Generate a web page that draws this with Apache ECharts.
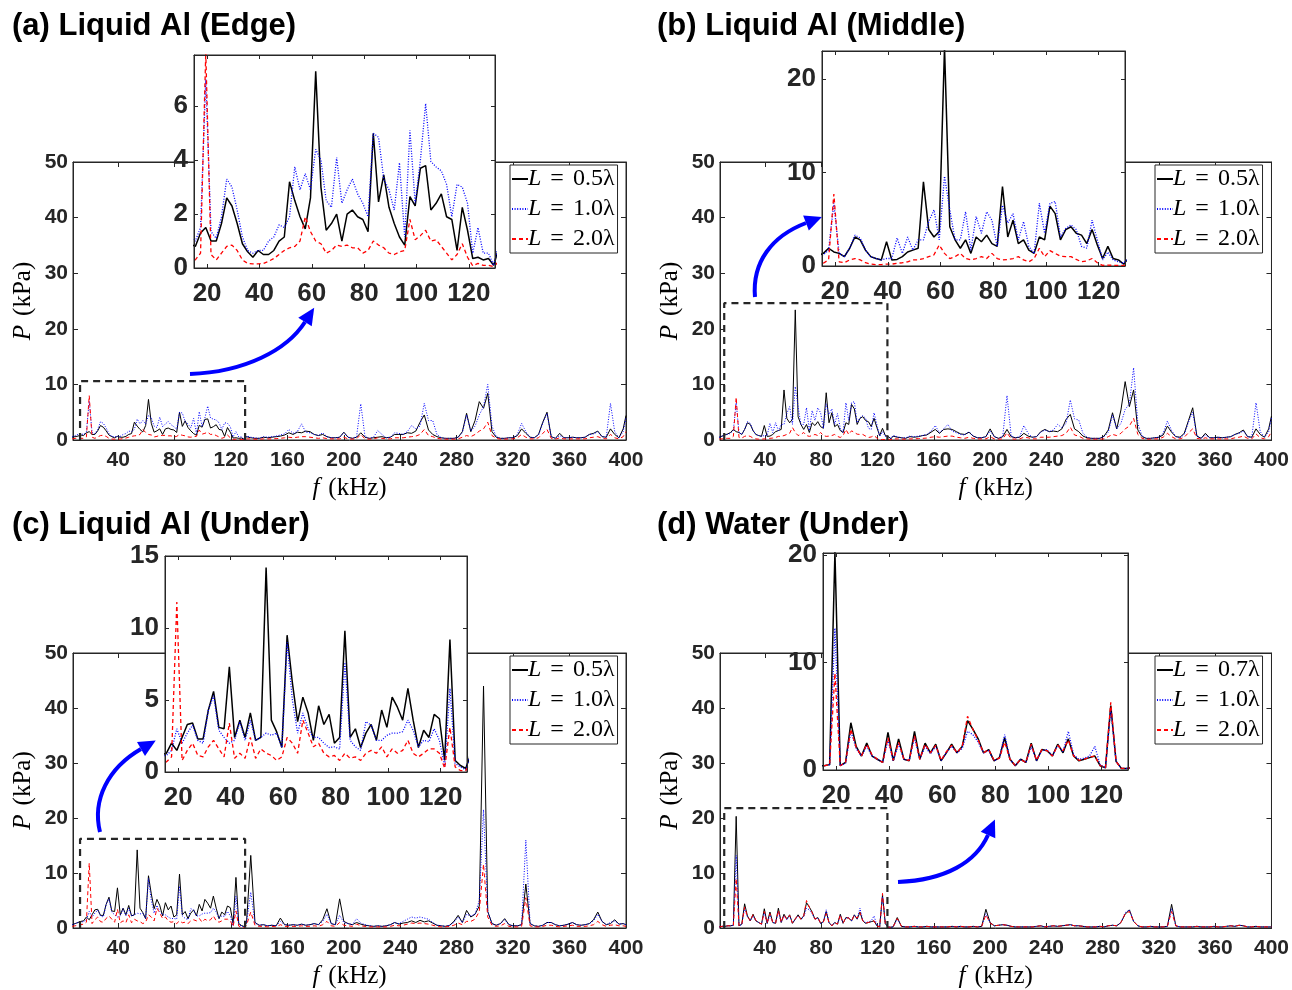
<!DOCTYPE html>
<html><head><meta charset="utf-8">
<script src="https://cdn.jsdelivr.net/npm/echarts@6/dist/echarts.min.js"></script>
<style>html,body{margin:0;padding:0;background:#fff}#c{width:1292px;height:990px}</style>
</head><body><div id="c"></div>
<script>
// ---------- frequency grid (kHz) ----------
const freq = [7.5,9.5,11.5,13.5,
15.5,17.5,19.5,21.5,23.5,25.5,27.5,29.5,31.5,33.5,35.5,37.5,39.5,41.5,43.5,45.5,47.5,49.5,51.5,53.5,55.5,57.5,59.5,61.5,63.5,65.5,67.5,69.5,71.5,73.5,75.5,77.5,79.5,81.5,83.5,85.5,87.5,89.5,91.5,93.5,95.5,97.5,99.5,101.5,103.5,105.5,107.5,109.5,111.5,113.5,115.5,117.5,119.5,121.5,123.5,125.5,127.5,129.5,
131,134,137,140,143,146,149,152,155,158,161,164,167,170,173,176,179,182,185,188,191,194,197,200,203,206,209,212,215,218,221,224,227,230,233,236,239,242,245,248,251,254,257,260,263,266,269,272,275,278,281,284,287,290,293,296,299,302,305,308,311,314,317,320,323,326,329,332,335,338,341,344,347,350,353,356,359,362,365,368,371,374,377,380,383,386,389,392,395,398,400];

// ---------- (a) Liquid Al (Edge) ----------
const aL05 = [0.5,0.6,0.7,0.9,
0.8,1.3,1.5,1.0,1.0,1.65,2.6,2.3,1.65,0.9, 0.6,0.4,0.65,0.5,0.5,0.65,1.0,1.15,3.2,2.5, 1.9,1.45,2.6,7.3,3.0,1.4,1.65,2.0,1.0,2.0, 2.15,1.9,1.8,1.35,5.0,2.45,3.45,2.25,1.65,1.15, 0.85,2.65,2.3,3.7,3.8,2.15,2.4,2.75,1.9,1.8, 0.65,2.25,1.4,0.35,0.4,0.3,0.35,0.1,
0.6,0.4,0.3,0.3,0.5,0.4,0.5,0.6,0.7,0.9, 1.3,1.0,1.4,1.3,1.6,1.5,1.0,0.8,1.0,0.6, 0.4,0.4,0.5,1.4,0.5,0.3,0.5,1.3,0.5,0.3, 0.4,0.5,0.6,0.4,0.5,1.0,1.0,1.0,1.3,1.2, 1.6,3.2,4.5,1.8,1.0,0.6,0.4,0.3,0.3,0.3, 0.5,1.5,4.8,1.5,3.5,6.9,5.7,8.4,1.5,0.5, 0.3,0.3,0.4,0.4,0.8,2.0,1.2,0.5,0.4,1.0, 3.2,5.0,0.6,0.3,1.2,0.4,0.4,0.5,0.4,0.4, 0.5,1.0,1.2,1.6,0.6,0.5,2.0,1.0,0.4,2.0, 4.4];
const aL10 = [0.6,0.8,1.0,1.1,
1.0,1.5,7.0,1.35,1.1,1.9,3.3,3.0,2.15,1.15, 0.65,0.55,0.65,0.65,1.0,1.15,1.6,1.5,1.9,3.75, 2.9,3.5,2.9,4.4,4.0,2.5,2.25,4.1,2.4,2.9, 3.3,2.75,2.4,1.9,5.0,4.85,3.3,2.9,2.15,3.9, 1.15,5.1,2.4,4.0,6.1,3.95,3.75,3.6,3.1,1.9, 3.1,3.0,2.4,0.55,1.5,0.55,0.55,0.1,
0.7,0.5,0.4,0.3,0.6,0.5,0.6,0.7,0.9,1.1, 1.9,1.2,1.5,2.9,1.4,1.3,1.0,0.8,1.3,0.6, 0.4,0.4,0.5,1.3,0.5,0.3,0.6,6.5,0.6,0.3, 0.5,1.7,1.0,0.4,0.5,1.3,1.2,1.0,1.5,2.6, 2.0,2.5,6.6,3.5,3.5,1.0,0.4,0.3,0.3,0.3, 0.5,1.3,4.5,1.6,2.5,4.5,6.0,10.0,2.5,0.6, 0.3,0.3,0.4,0.4,1.0,3.0,1.5,0.5,0.4,0.9, 3.0,4.8,0.6,0.3,0.8,0.4,0.4,0.5,0.4,0.4, 0.5,1.0,1.1,1.5,0.6,0.5,6.6,1.5,0.4,1.5, 4.0];
const aL20 = [0.2,0.3,0.3,0.3,
0.3,0.55,8.0,0.5,0.3,0.55,0.8,0.85,0.65,0.3, 0.17,0.15,0.15,0.17,0.25,0.35,0.5,0.65,0.75,0.8, 1.0,1.9,1.35,1.0,0.9,0.55,0.65,0.85,0.8,0.85, 0.75,0.75,0.55,0.65,1.0,0.85,0.75,0.55,0.5,0.6, 0.65,1.8,1.05,1.2,1.4,1.0,1.05,0.8,0.55,0.3, 0.5,0.9,0.4,0.08,0.17,0.1,0.1,0.05,
0.2,0.2,0.15,0.15,0.2,0.2,0.2,0.25,0.3,0.4, 0.5,0.4,0.5,0.6,0.6,0.5,0.4,0.3,0.4,0.25, 0.2,0.2,0.2,0.5,0.2,0.15,0.2,1.0,0.2,0.15, 0.2,0.4,0.3,0.2,0.2,0.4,0.4,0.4,0.5,0.6, 0.7,1.0,1.9,0.8,0.6,0.3,0.2,0.15,0.15,0.15, 0.2,0.5,0.8,0.6,1.0,1.6,2.0,3.2,0.8,0.3, 0.15,0.15,0.2,0.2,0.4,1.0,0.5,0.2,0.2,0.4, 1.2,1.9,0.3,0.15,0.4,0.2,0.2,0.2,0.2,0.2, 0.2,0.4,0.5,0.6,0.3,0.2,1.0,0.4,0.2,0.6, 1.5];

// ---------- (b) Liquid Al (Middle) ----------
const bL05 = [0.5,0.7,0.9,1.1,
1.35,1.9,1.5,1.35,1.0,1.9,3.1,2.8,1.7,1.0, 0.8,0.65,2.6,0.65,0.7,1.0,1.5,1.7,1.9,9.0, 3.9,3.1,3.7,23.4,4.2,2.8,1.9,2.8,1.35,3.1, 2.6,3.3,2.4,2.1,8.5,3.1,4.9,2.4,2.8,1.7, 1.35,3.1,2.8,6.4,5.6,2.8,3.9,4.2,3.5,3.3, 2.4,3.9,2.25,0.8,2.1,0.8,0.65,0.2,
0.7,0.5,0.4,0.3,0.6,0.5,0.6,0.8,0.9,1.4, 1.9,1.2,1.9,2.0,1.9,1.5,1.1,1.0,1.4,0.7, 0.4,0.4,0.6,2.0,0.6,0.3,0.6,1.9,0.6,0.4, 0.5,1.2,0.7,0.5,0.6,1.5,1.9,1.5,1.6,1.5, 2.0,3.7,4.6,2.0,1.5,0.7,0.4,0.3,0.3,0.3, 0.7,1.8,4.9,2.0,5.4,10.5,6.0,9.0,1.8,0.6, 0.3,0.3,0.4,0.5,0.9,2.5,1.4,0.6,0.5,1.2, 3.5,5.8,0.7,0.3,1.2,0.4,0.4,0.5,0.4,0.5, 0.6,1.0,1.3,1.8,0.6,0.5,2.0,1.0,0.5,2.0, 4.3];
const bL10 = [0.5,0.7,0.9,1.0,
1.2,1.7,6.7,1.35,1.0,1.9,3.3,3.0,1.7,1.0, 0.8,0.65,0.8,0.8,3.0,1.35,3.1,1.7,2.8,2.8, 4.75,6.0,2.8,9.6,6.0,2.8,2.8,5.8,1.7,5.3, 3.5,5.8,4.9,2.1,6.5,4.6,5.6,2.8,4.75,2.1, 1.35,6.7,3.5,6.7,6.9,3.1,4.0,4.4,3.9,2.1, 1.9,4.9,2.8,0.65,1.5,0.65,0.45,0.3,
0.8,0.6,0.4,0.4,0.7,0.6,0.7,0.8,1.0,1.6, 2.6,1.3,2.0,2.8,1.6,1.3,1.0,0.9,1.5,0.7, 0.4,0.4,0.6,1.6,0.6,0.3,0.7,8.0,0.7,0.4, 0.6,2.6,1.2,0.5,0.6,1.4,1.8,1.5,1.8,2.8, 2.2,3.0,7.2,3.8,3.6,1.2,0.5,0.3,0.3,0.3, 0.6,1.4,4.5,2.0,3.0,5.5,6.5,13.0,3.0,0.7, 0.3,0.3,0.4,0.5,1.2,3.4,1.7,0.6,0.4,1.0, 3.2,5.0,0.7,0.3,0.9,0.4,0.4,0.5,0.4,0.5, 0.6,1.0,1.2,1.6,0.6,0.5,6.7,1.5,0.5,1.5, 4.0];
const bL20 = [0.2,0.2,0.3,0.3,
0.3,0.65,7.7,0.45,0.35,0.65,0.8,0.65,0.35,0.2, 0.15,0.15,0.2,0.2,0.3,0.35,0.45,0.65,0.65,0.8, 1.0,1.2,2.25,1.35,0.8,1.0,1.35,0.8,0.65,0.8, 1.0,0.8,1.35,0.8,0.65,0.7,0.8,1.0,0.65,0.45, 0.8,1.9,1.0,1.65,1.35,1.05,1.0,1.0,0.7,0.45, 0.55,0.8,0.35,0.07,0.1,0.07,0.07,0.05,
0.2,0.2,0.15,0.15,0.2,0.2,0.25,0.3,0.35,0.5, 0.6,0.5,0.6,0.7,0.7,0.5,0.4,0.3,0.5,0.3, 0.2,0.2,0.2,0.6,0.2,0.15,0.2,1.3,0.2,0.15, 0.2,0.5,0.4,0.2,0.2,0.5,0.5,0.5,0.6,0.7, 0.8,1.2,2.3,0.9,0.7,0.3,0.2,0.15,0.15,0.15, 0.2,0.6,1.0,0.8,1.2,2.0,2.5,3.9,1.0,0.3, 0.15,0.15,0.2,0.2,0.5,1.2,0.6,0.2,0.2,0.5, 1.3,2.0,0.3,0.15,0.4,0.2,0.2,0.2,0.2,0.2, 0.2,0.4,0.5,0.7,0.3,0.2,1.1,0.4,0.2,0.6, 1.5];

// ---------- (c) Liquid Al (Under) ----------
const cL05 = [0.6,0.8,1.0,1.2,
1.3,2.0,1.5,2.4,3.3,3.4,2.3,2.3,4.3,5.6, 3.1,3.0,7.3,2.4,3.6,2.4,4.1,2.2,2.4,14.2, 3.6,2.8,1.7,9.5,6.2,3.5,5.2,4.1,2.2,4.6, 3.3,4.0,2.0,2.4,9.8,2.4,3.0,1.7,2.7,3.3, 2.2,4.3,3.1,5.2,4.5,3.6,5.8,3.6,1.7,2.9, 2.4,4.0,3.7,0.8,9.2,0.8,0.45,0.25,
1.0,13.2,1.0,0.5,0.6,0.4,0.5,0.4,1.8,0.6, 0.5,0.6,0.5,0.7,0.5,0.6,0.8,0.6,1.5,3.5, 0.8,0.6,5.3,1.2,0.8,0.6,1.0,0.7,0.5,0.4, 0.3,0.4,0.3,0.4,0.6,1.0,0.7,0.9,1.0,1.3, 1.0,1.4,1.1,1.3,0.9,0.5,0.4,0.3,0.5,1.2, 2.3,1.0,3.2,2.0,2.5,4.0,44.0,3.0,0.8,0.5, 0.8,1.7,0.6,0.4,0.4,0.6,8.0,0.8,0.4,0.3, 0.5,1.0,1.0,0.6,0.4,0.5,0.7,1.0,0.6,0.5, 0.6,0.8,1.5,2.9,1.2,0.6,0.8,1.5,0.7,0.8, 0.6];
const cL10 = [0.6,0.8,1.0,1.1,
1.15,1.5,3.0,2.0,2.7,3.25,2.2,2.0,4.3,5.3, 2.9,2.4,2.0,2.2,3.5,2.2,3.6,2.2,2.4,2.7, 2.55,2.7,1.7,9.0,5.0,2.7,4.1,3.0,2.4,2.4, 2.0,1.7,1.75,1.6,7.6,2.2,1.75,1.5,3.5,3.25, 2.2,2.2,2.55,2.7,2.7,2.8,3.6,2.9,1.75,2.2, 2.1,3.0,2.2,0.35,5.8,0.6,0.35,0.15,
1.0,6.5,0.9,0.5,0.6,0.4,0.5,0.4,1.2,0.6, 0.5,0.6,0.5,0.7,0.5,0.6,0.8,0.6,1.2,2.5, 0.8,0.6,2.3,1.0,0.8,0.6,1.7,0.9,0.6,0.4, 0.3,0.4,0.3,0.4,0.6,1.0,0.8,1.2,1.6,2.0, 1.8,2.0,1.8,1.6,1.0,0.5,0.4,0.3,0.5,1.0, 2.0,1.0,2.5,2.2,2.5,5.0,21.5,3.0,0.8,0.5, 0.8,1.5,0.6,0.4,0.4,0.6,16.0,0.8,0.4,0.3, 0.5,1.0,1.0,0.6,0.4,0.5,0.7,1.0,0.6,0.5, 0.6,0.8,1.3,2.5,1.2,0.6,1.0,1.3,0.7,0.8, 0.6];
const cL20 = [0.3,0.4,0.5,0.6,
0.7,1.05,11.8,0.8,1.5,2.0,1.15,1.05,1.75,2.2, 1.6,1.05,3.4,0.95,1.3,0.95,2.4,0.95,1.6,1.3, 1.15,0.8,1.05,2.4,2.0,1.3,3.6,2.7,1.75,2.0, 1.3,1.05,1.15,0.8,1.3,0.95,1.05,0.8,1.3,1.5, 1.3,1.75,1.05,1.6,1.3,1.5,2.2,1.3,1.05,1.3, 1.6,1.6,1.3,0.25,3.1,0.35,0.1,0.1,
0.5,2.9,0.5,0.3,0.3,0.2,0.3,0.2,0.6,0.3, 0.3,0.3,0.3,0.4,0.3,0.3,0.4,0.3,0.6,1.2, 0.4,0.3,1.0,0.5,0.4,0.3,0.7,0.4,0.3,0.2, 0.2,0.2,0.2,0.2,0.3,0.5,0.4,0.5,0.7,0.9, 0.8,0.9,0.8,0.7,0.5,0.3,0.2,0.2,0.3,0.5, 0.9,0.6,1.2,1.2,1.6,3.0,11.6,2.0,0.5,0.3, 0.4,0.8,0.3,0.2,0.2,0.3,5.5,0.4,0.2,0.2, 0.3,0.5,0.5,0.3,0.2,0.3,0.4,0.5,0.3,0.3, 0.3,0.4,0.6,1.2,0.6,0.3,0.5,0.6,0.4,0.4, 0.3];

// ---------- (d) Water (Under) ----------
const dL07 = [0.2,0.3,0.3,0.4,
0.4,0.5,20.3,0.4,0.7,4.4,2.2,1.3,2.5,1.3, 1.0,0.7,3.5,0.85,2.9,1.0,0.85,3.6,1.0,2.5, 1.6,2.4,0.85,1.6,2.4,1.6,2.2,4.6,3.8,2.9, 1.6,1.9,0.85,1.15,3.0,1.0,0.4,1.0,0.7,2.5, 0.85,1.9,1.8,1.3,2.4,1.6,2.9,1.3,0.85,1.0, 1.15,1.3,0.4,0.2,6.0,0.8,0.15,0.15,
0.2,1.9,0.3,0.2,0.2,0.3,0.2,0.2,0.3,0.2, 0.2,0.2,0.2,0.2,0.3,0.2,0.3,0.2,0.2,0.3, 0.2,0.3,3.4,1.0,0.4,0.5,0.6,0.5,0.3,0.2, 0.2,0.2,0.2,0.2,0.3,0.4,0.2,0.3,0.4,0.3, 0.4,0.5,0.6,0.4,0.4,0.3,0.2,0.2,0.2,0.3, 0.2,0.4,0.5,0.4,1.0,2.5,3.3,1.2,0.4,0.2, 0.2,0.3,0.2,0.2,0.2,0.3,4.3,0.4,0.2,0.2, 0.2,0.2,0.3,0.2,0.2,0.2,0.3,0.2,0.2,0.3, 0.4,0.3,0.5,0.4,0.2,0.2,0.3,0.2,0.2,0.2, 0.2];
const dL10 = [0.2,0.3,0.3,0.4,
0.4,0.5,13.2,0.4,0.6,3.6,2.0,1.3,2.2,1.3, 1.0,0.7,2.8,0.85,2.4,1.0,0.9,3.0,1.0,2.2, 1.5,2.2,0.9,1.6,2.2,1.6,2.0,3.6,3.3,2.6, 1.6,1.8,0.85,1.1,3.3,1.0,0.4,1.0,0.7,2.2, 0.9,1.8,1.9,1.3,2.3,1.7,3.6,1.4,1.0,1.1, 1.3,2.2,0.5,0.2,5.7,0.8,0.15,0.15,
0.2,1.6,0.3,0.2,0.2,0.3,0.2,0.2,0.3,0.2, 0.2,0.2,0.2,0.2,0.3,0.2,0.3,0.2,0.2,0.3, 0.2,0.3,2.6,0.9,0.4,0.5,0.6,0.5,0.3,0.2, 0.2,0.2,0.2,0.2,0.3,0.4,0.2,0.3,0.4,0.3, 0.4,0.5,0.6,0.4,0.4,0.3,0.2,0.2,0.2,0.3, 0.2,0.4,0.5,0.4,1.0,2.8,3.3,1.2,0.4,0.2, 0.2,0.3,0.2,0.2,0.2,0.3,3.5,0.4,0.2,0.2, 0.2,0.2,0.3,0.2,0.2,0.2,0.3,0.2,0.2,0.3, 0.4,0.3,0.5,0.4,0.2,0.2,0.3,0.2,0.2,0.2, 0.2];
const dL20 = [0.2,0.3,0.3,0.4,
0.4,0.5,9.0,0.4,0.7,3.8,2.1,1.3,2.4,1.4, 1.0,0.7,3.0,0.9,2.6,1.0,0.9,3.2,1.0,2.4, 1.6,2.3,0.9,1.7,2.3,1.6,2.2,5.0,3.8,2.8, 1.6,1.9,0.9,1.1,2.6,1.0,0.4,1.0,0.7,2.4, 0.9,1.9,1.8,1.3,2.3,1.8,2.8,1.3,0.9,1.0, 1.2,1.3,0.4,0.2,6.3,0.8,0.15,0.15,
0.2,1.7,0.3,0.2,0.2,0.3,0.2,0.2,0.3,0.2, 0.2,0.2,0.2,0.2,0.3,0.2,0.3,0.2,0.2,0.3, 0.2,0.3,2.4,0.9,0.4,0.5,0.6,0.5,0.3,0.2, 0.2,0.2,0.2,0.2,0.3,0.4,0.2,0.3,0.4,0.3, 0.4,0.5,0.6,0.4,0.4,0.3,0.2,0.2,0.2,0.3, 0.2,0.4,0.5,0.4,1.0,2.6,3.0,1.2,0.4,0.2, 0.2,0.3,0.2,0.2,0.2,0.3,3.0,0.4,0.2,0.2, 0.2,0.2,0.3,0.2,0.2,0.2,0.3,0.2,0.2,0.3, 0.4,0.3,0.5,0.4,0.2,0.2,0.3,0.2,0.2,0.2, 0.2];

// ---------- ticks & labels ----------
const mainXTicks = [40,80,120,160,200,240,280,320,360,400];
const mainYTicks = [0,10,20,30,40,50];
const insetXTicks = [20,40,60,80,100,120];
const titles = ['(a) Liquid Al (Edge)','(b) Liquid Al (Middle)','(c) Liquid Al (Under)','(d) Water (Under)'];
const legendLabels = [['0.5','1.0','2.0'],['0.5','1.0','2.0'],['0.5','1.0','2.0'],['0.7','1.0','2.0']];
const insetYTicks = [[0,2,4,6],[0,10,20],[0,5,10,15],[0,10,20]];
const insetYMax = [7.9,23,15,20.2];
const boxes = [[13,130,10.6],[11,127,24.6],[13,130,16.2],[11,127,21.8]];

// ---------- layout ----------
const layout = [
  {main:[73,162,553,278], inset:[194,55,301,213], legend:[510,165], title:[12,28],
   arrow:[[190,374],[245,372],[287,350],[305,322]]},
  {main:[720,162,552,278], inset:[822,51,303,215], legend:[1155,165], title:[657,28],
   arrow:[[755,297],[752,262],[772,236],[806,223]]},
  {main:[73,653,553,278], inset:[165,556,302,216], legend:[510,656], title:[12,527],
   arrow:[[100,832],[92,800],[108,768],[141,749]]},
  {main:[720,653,552,278], inset:[823,553,305,217], legend:[1155,656], title:[657,527],
   arrow:[[898,882],[946,880],[976,862],[988,835]]}
];
const seriesSets = [[aL05,aL10,aL20],[bL05,bL10,bL20],[cL05,cL10,cL20],[dL07,dL10,dL20]];

const SANS = 'Liberation Sans, Arial, Helvetica, sans-serif';
const SERIF = 'Liberation Serif, Times New Roman, serif';
const AX = '#262626';
const colors = ['#000000','#0000ff','#ff0000'];
const dashes = ['solid',[1,1.6],[4,3]];

const option = {animation:false, backgroundColor:'#fff', grid:[], xAxis:[], yAxis:[], series:[], legend:[], graphic:[]};

const nameStyle = {fontFamily:SERIF, fontSize:25, color:'#000',
  rich:{i:{fontFamily:SERIF, fontSize:25, fontStyle:'italic', color:'#000'}, s:{fontSize:25, width:9}}};

function axisCfg(gi, min, max, ticks, pos, showLabel, fs, margin, tlen, z, name, gap){
  const o = {type:'value', gridIndex:gi, min:min, max:max, position:pos, z:z,
    axisLine:{show:true, onZero:false, lineStyle:{color:AX, width:1}},
    axisTick:{show:true, inside:true, length:tlen, customValues:ticks, lineStyle:{color:AX, width:1}},
    axisLabel:{show:showLabel, customValues:ticks, color:AX, fontFamily:SANS, fontWeight:'bold', fontSize:fs, margin:margin},
    splitLine:{show:false}};
  if(name){ o.name=name; o.nameLocation='middle'; o.nameGap=gap; o.nameTextStyle=nameStyle; }
  return o;
}

function arrowGraphics(pts){
  const [p0,c1,c2,p3] = pts;
  const dx=p3[0]-c2[0], dy=p3[1]-c2[1], L=Math.hypot(dx,dy), ux=dx/L, uy=dy/L;
  const hl=17, hw=8;
  const tip=[p3[0]+ux*hl, p3[1]+uy*hl];
  const b1=[p3[0]-uy*hw, p3[1]+ux*hw], b2=[p3[0]+uy*hw, p3[1]-ux*hw];
  return [
    {type:'bezierCurve', z:100, shape:{x1:p0[0],y1:p0[1],cpx1:c1[0],cpy1:c1[1],cpx2:c2[0],cpy2:c2[1],x2:p3[0],y2:p3[1]},
     style:{stroke:'#0000ff', lineWidth:4, fill:null}},
    {type:'polygon', z:100, shape:{points:[tip,b1,b2]}, style:{fill:'#0000ff'}}
  ];
}

layout.forEach((p,i)=>{
  const gm = 2*i, gin = 2*i+1;
  option.grid.push({left:p.main[0], top:p.main[1], width:p.main[2], height:p.main[3], show:true, borderColor:AX, borderWidth:1, backgroundColor:'rgba(0,0,0,0)', z:0});
  option.grid.push({left:p.inset[0], top:p.inset[1], width:p.inset[2], height:p.inset[3], show:true, borderColor:AX, borderWidth:1, backgroundColor:'#ffffff', z:5});
  option.xAxis.push(axisCfg(gm, 8, 400, mainXTicks, 'bottom', true, 21, 10, 5, 1, '{i|f}{s|}(kHz)', 36));
  option.xAxis.push(axisCfg(gm, 8, 400, mainXTicks, 'top', false, 21, 10, 5, 1));
  option.xAxis.push(axisCfg(gin, 15, 130, insetXTicks, 'bottom', true, 26, 13, 4, 7));
  option.xAxis.push(axisCfg(gin, 15, 130, insetXTicks, 'top', false, 26, 13, 4, 7));
  option.yAxis.push(axisCfg(gm, 0, 50, mainYTicks, 'left', true, 21, 5, 5, 1, '{i|P}{s|}(kPa)', 37));
  option.yAxis.push(axisCfg(gm, 0, 50, mainYTicks, 'right', false, 21, 5, 5, 1));
  option.yAxis.push(axisCfg(gin, 0, insetYMax[i], insetYTicks[i], 'left', true, 26, 6, 4, 7));
  option.yAxis.push(axisCfg(gin, 0, insetYMax[i], insetYTicks[i], 'right', false, 26, 6, 4, 7));

  const names = [];
  seriesSets[i].forEach((vals,j)=>{
    const nm = 'p'+i+'s'+j; names.push(nm);
    const data = freq.map((f,k)=>[f, vals[k]]);
    option.series.push({type:'line', name:nm, xAxisIndex:4*i, yAxisIndex:4*i, data:data, showSymbol:false, symbol:'none',
      z:2+j*0.01, lineStyle:{color:colors[j], width:1, type:dashes[j]}, itemStyle:{color:colors[j]}, clip:true, silent:true});
    option.series.push({type:'line', name:nm, xAxisIndex:4*i+2, yAxisIndex:4*i+2, data:data, showSymbol:false, symbol:'none',
      z:6+j*0.01, lineStyle:{color:colors[j], width:j===0?1.5:1.3, type:dashes[j]}, itemStyle:{color:colors[j]}, clip:true, silent:true});
  });
  const b = boxes[i];
  option.series.push({type:'line', xAxisIndex:4*i, yAxisIndex:4*i, data:[[b[0],0],[b[0],b[2]],[b[1],b[2]],[b[1],0]],
    showSymbol:false, symbol:'none', z:3, lineStyle:{color:'#262626', width:2.2, type:[7,5]}, clip:false, silent:true});

  const labs = legendLabels[i];
  option.legend.push({left:p.legend[0], top:p.legend[1], orient:'vertical', data:names, selectedMode:false,
    backgroundColor:'#fff', borderColor:AX, borderWidth:1, padding:[2,3,2,1], itemWidth:16, itemHeight:10, itemGap:6, z:10,
    itemStyle:{opacity:0},
    formatter:(name)=>'{i|L}{e|=}'+labs[+name.slice(-1)]+'λ',
    textStyle:{fontFamily:SERIF, fontSize:24, color:'#000', padding:[0,0,0,-5],
      rich:{i:{fontFamily:SERIF, fontSize:24, fontStyle:'italic', color:'#000'},
            e:{fontFamily:SERIF, fontSize:24, color:'#000', padding:[0,9,0,9]}}}});

  option.graphic.push({type:'text', left:p.title[0], top:p.title[1]-17, z:100,
    style:{text:titles[i], font:'bold 31px '+SANS, fill:'#000'}});
  arrowGraphics(p.arrow).forEach(g=>option.graphic.push(g));
});

const chart = echarts.init(document.getElementById('c'), null, {renderer:'canvas'});
chart.setOption(option);
</script>
</body></html>
